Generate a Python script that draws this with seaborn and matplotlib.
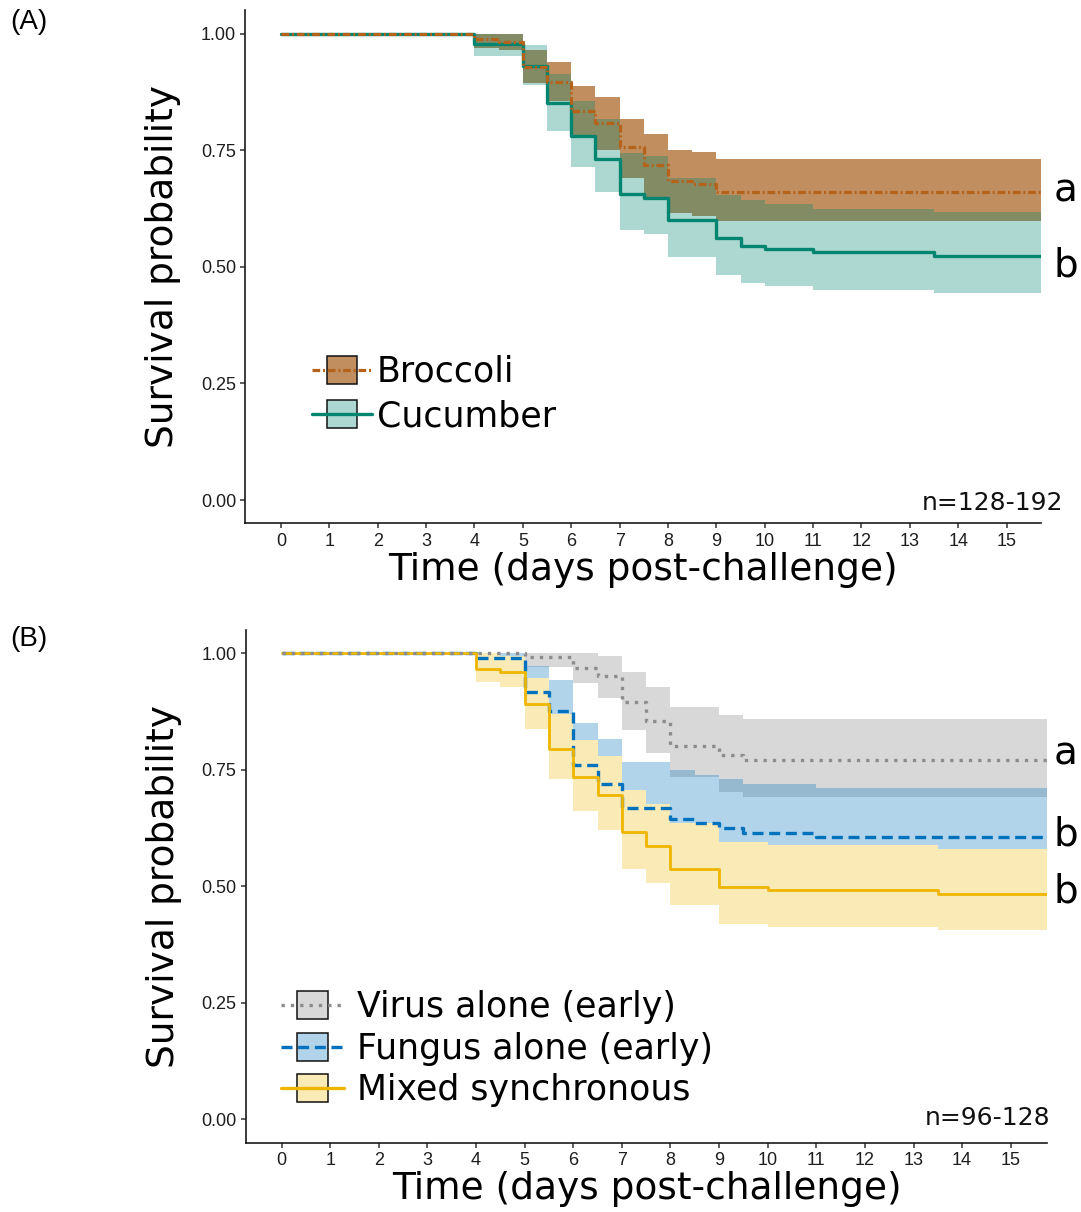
import numpy as np
import pandas as pd
import matplotlib
matplotlib.use("Agg")
import matplotlib.pyplot as plt
import seaborn as sns
from matplotlib.patches import Rectangle
from matplotlib.lines import Line2D
from matplotlib.legend_handler import HandlerBase
from matplotlib.transforms import blended_transform_factory

# ---------------- Panel A: diet ----------------
broccoli_time  = [0, 4, 4.5, 5, 5.5, 6, 6.5, 7, 7.5, 8, 8.5, 9]
broccoli_surv  = [1.000, 0.988, 0.983, 0.928, 0.896, 0.835, 0.808, 0.756, 0.718, 0.683, 0.678, 0.661]
broccoli_upper = [1.000, 1.000, 1.000, 0.964, 0.939, 0.887, 0.865, 0.818, 0.784, 0.750, 0.746, 0.732]
broccoli_lower = [1.000, 0.969, 0.965, 0.894, 0.856, 0.780, 0.750, 0.690, 0.650, 0.615, 0.610, 0.598]

cucumber_time  = [0, 4, 5, 5.5, 6, 6.5, 7, 7.5, 8, 9, 9.5, 10, 11, 13.5]
cucumber_surv  = [1.000, 0.978, 0.930, 0.851, 0.781, 0.732, 0.657, 0.648, 0.601, 0.562, 0.545, 0.539, 0.531, 0.523]
cucumber_upper = [1.000, 1.000, 0.975, 0.914, 0.856, 0.817, 0.745, 0.738, 0.691, 0.655, 0.644, 0.634, 0.624, 0.617]
cucumber_lower = [1.000, 0.951, 0.889, 0.792, 0.713, 0.661, 0.578, 0.571, 0.522, 0.483, 0.466, 0.459, 0.450, 0.443]

# ---------------- Panel B: infection treatment ----------------
virus_time  = [0, 5, 6, 6.5, 7, 7.5, 8, 9, 9.5]
virus_surv  = [1.000, 0.991, 0.969, 0.951, 0.896, 0.855, 0.801, 0.781, 0.771]
virus_upper = [1.000, 1.000, 1.000, 0.994, 0.959, 0.928, 0.885, 0.868, 0.860]
virus_lower = [1.000, 0.971, 0.936, 0.905, 0.836, 0.786, 0.735, 0.703, 0.692]

fungus_time  = [0, 4, 5, 5.5, 6, 6.5, 7, 8, 8.5, 9, 9.5, 11]
fungus_surv  = [1.000, 0.990, 0.917, 0.876, 0.760, 0.719, 0.667, 0.645, 0.636, 0.625, 0.614, 0.606]
fungus_upper = [1.000, 1.000, 0.972, 0.943, 0.850, 0.815, 0.767, 0.749, 0.738, 0.730, 0.720, 0.710]
fungus_lower = [1.000, 0.975, 0.860, 0.810, 0.680, 0.630, 0.575, 0.555, 0.545, 0.535, 0.525, 0.515]

mixed_time  = [0, 4, 4.5, 5, 5.5, 6, 6.5, 7, 7.5, 8, 9, 10, 13.5]
mixed_surv  = [1.000, 0.967, 0.960, 0.892, 0.795, 0.735, 0.695, 0.617, 0.586, 0.538, 0.499, 0.491, 0.484]
mixed_upper = [1.000, 1.000, 0.995, 0.946, 0.869, 0.813, 0.779, 0.707, 0.677, 0.636, 0.595, 0.588, 0.581]
mixed_lower = [1.000, 0.938, 0.928, 0.838, 0.731, 0.662, 0.620, 0.538, 0.508, 0.459, 0.420, 0.413, 0.406]

day_ticks = list(range(16))
surv_ticks = [0.00, 0.25, 0.50, 0.75, 1.00]
surv_tick_labels = ["0.00", "0.25", "0.50", "0.75", "1.00"]

W, H = 1081, 1212
TICK_FONT = "Liberation Sans"
TEXT_FONT = "DejaVu Sans"

sns.set_theme(style="ticks")
plt.rcParams["font.family"] = [TEXT_FONT]
plt.rcParams["text.color"] = "black"
plt.rcParams["axes.labelcolor"] = "black"


def step_frame(time, surv, upper, lower, t_end):
    """Kaplan-Meier style table, carried out to the end of follow-up."""
    df = pd.DataFrame({"time": time, "surv": surv, "upper": upper, "lower": lower})
    last = df.iloc[[-1]].copy()
    last["time"] = t_end
    return pd.concat([df, last], ignore_index=True)


def draw_band(ax, df, **kw):
    ax.fill_between(df["time"], df["lower"], df["upper"], step="post", linewidth=0, **kw)


def draw_curve(ax, df, color, lw, ls):
    sns.lineplot(data=df, x="time", y="surv", ax=ax, color=color, linewidth=lw,
                 linestyle=ls, drawstyle="steps-post", estimator=None, sort=False,
                 legend=False)


class BandLineHandler(HandlerBase):
    """Legend key: a framed fill swatch with the curve's line drawn through it."""
    def create_artists(self, legend, orig_handle, xdescent, ydescent, width, height,
                       fontsize, trans):
        patch, line = orig_handle
        bw, bh = width * 0.5, height * 1.15
        x0 = -xdescent + (width - bw) / 2
        y0 = -ydescent + (height - bh) / 2
        rect = Rectangle((x0, y0), bw, bh, facecolor=patch.get_facecolor(),
                         edgecolor="#111111", linewidth=1.1, transform=trans)
        ln = Line2D([-xdescent, -xdescent + width], [-ydescent + height / 2] * 2)
        ln.update_from(line)
        ln.set_transform(trans)
        return [rect, ln]


def style_axes(ax, xlim):
    ax.set_xlim(*xlim)
    ax.set_ylim(-0.05, 1.05)
    ax.set_xticks(day_ticks)
    ax.set_xticklabels([str(d) for d in day_ticks], family=TICK_FONT)
    ax.set_yticks(surv_ticks)
    ax.set_yticklabels(surv_tick_labels, family=TICK_FONT)
    ax.tick_params(axis="both", labelsize=13, length=3.6, width=1.1, color="#333333",
                   labelcolor="#1e1e1e", pad=3)
    for side in ("top", "right"):
        ax.spines[side].set_visible(False)
    for side in ("left", "bottom"):
        ax.spines[side].set_linewidth(1.2)
        ax.spines[side].set_color("#1a1a1a")
    ax.set_xlabel("Time (days post-challenge)", fontsize=27, family=TEXT_FONT,
                  labelpad=2, color="black")
    ax.set_ylabel("Survival probability", fontsize=27, family=TEXT_FONT,
                  labelpad=14, color="black")
    ax.grid(False)
    ax.set_facecolor("white")


fig = plt.figure(figsize=(W / 100, H / 100), dpi=100)
fig.patch.set_facecolor("white")

# ---------------- Panel A ----------------
XLIM_A = (-0.74, 15.72)
axA = fig.add_axes([0.2268, 0.5682, 0.7366, 0.4233])

broc = step_frame(broccoli_time, broccoli_surv, broccoli_upper, broccoli_lower, XLIM_A[1])
cucu = step_frame(cucumber_time, cucumber_surv, cucumber_upper, cucumber_lower, XLIM_A[1])

BROC_LINE, BROC_FILL = "#B5621A", "#C08E5F"
CUCU_LINE = "#008571"
dashdot = (0, (2.4, 0.9, 0.6, 0.9))

draw_band(axA, broc, color=BROC_FILL)
draw_band(axA, cucu, color=CUCU_LINE, alpha=0.32)
draw_curve(axA, cucu, CUCU_LINE, 2.4, "-")
draw_curve(axA, broc, BROC_LINE, 2.3, dashdot)
style_axes(axA, XLIM_A)

handles_A = [
    (Rectangle((0, 0), 1, 1, facecolor=BROC_FILL),
     Line2D([], [], color=BROC_LINE, lw=2.3, linestyle=dashdot)),
    (Rectangle((0, 0), 1, 1, facecolor=matplotlib.colors.to_rgba(CUCU_LINE, 0.32)),
     Line2D([], [], color=CUCU_LINE, lw=2.4, linestyle="-")),
]
axA.legend(handles_A, ["Broccoli", "Cucumber"], handler_map={tuple: BandLineHandler()},
           loc="center left", bbox_to_anchor=(0.0835, 0.252), frameon=False,
           prop={"family": TEXT_FONT, "size": 25}, handlelength=1.73, handleheight=0.7,
           handletextpad=0.15, labelspacing=0.3, borderpad=0, borderaxespad=0)

# ---------------- Panel B ----------------
XLIM_B = (-0.74, 15.75)
axB = fig.add_axes([0.2273, 0.0573, 0.7414, 0.4229])

vir = step_frame(virus_time, virus_surv, virus_upper, virus_lower, XLIM_B[1])
fun = step_frame(fungus_time, fungus_surv, fungus_upper, fungus_lower, XLIM_B[1])
mix = step_frame(mixed_time, mixed_surv, mixed_upper, mixed_lower, XLIM_B[1])

VIR_LINE, VIR_FILL = "#8C8C8C", "#808080"
FUN_LINE = "#0072BD"
MIX_LINE, MIX_FILL = "#EEB600", "#FAEAB5"
dotted = (0, (1.0, 1.8))
dashed = (0, (3.3, 1.7))

draw_band(axB, vir, color=VIR_FILL, alpha=0.3)
draw_band(axB, fun, color=FUN_LINE, alpha=0.3)
draw_band(axB, mix, color=MIX_FILL)
draw_curve(axB, fun, FUN_LINE, 2.4, dashed)
draw_curve(axB, mix, MIX_LINE, 2.0, "-")
draw_curve(axB, vir, VIR_LINE, 2.4, dotted)
style_axes(axB, XLIM_B)

handles_B = [
    (Rectangle((0, 0), 1, 1, facecolor=matplotlib.colors.to_rgba(VIR_FILL, 0.3)),
     Line2D([], [], color=VIR_LINE, lw=2.4, linestyle=dotted)),
    (Rectangle((0, 0), 1, 1, facecolor=matplotlib.colors.to_rgba(FUN_LINE, 0.3)),
     Line2D([], [], color=FUN_LINE, lw=2.4, linestyle=dashed)),
    (Rectangle((0, 0), 1, 1, facecolor=MIX_FILL),
     Line2D([], [], color=MIX_LINE, lw=2.4, linestyle="-")),
]
axB.legend(handles_B, ["Virus alone (early)", "Fungus alone (early)", "Mixed synchronous"],
           handler_map={tuple: BandLineHandler()},
           loc="center left", bbox_to_anchor=(0.0441, 0.183), frameon=False,
           prop={"family": TEXT_FONT, "size": 25}, handlelength=1.8, handleheight=0.7,
           handletextpad=0.4, labelspacing=0.21, borderpad=0, borderaxespad=0)

# ---------------- annotations ----------------
def fig_xy(px, py):
    return px / W, 1 - py / H

for ax, letters in ((axA, [("a", 0.664), ("b", 0.502)]),
                    (axB, [("a", 0.786), ("b", 0.612), ("b", 0.488)])):
    tr = blended_transform_factory(fig.transFigure, ax.transData)
    for letter, yv in letters:
        ax.text(1066 / W, yv, letter, transform=tr, ha="center", va="center",
                fontsize=28, family=TEXT_FONT, color="black", clip_on=False)

fig.text(*fig_xy(1063, 503), "n=128-192", ha="right", va="center", fontsize=18,
         family=TEXT_FONT, color="#111111")
fig.text(*fig_xy(1050, 1118), "n=96-128", ha="right", va="center", fontsize=18,
         family=TEXT_FONT, color="#111111")
fig.text(*fig_xy(10, 22), "(A)", ha="left", va="center", fontsize=20, family=TICK_FONT)
fig.text(*fig_xy(10, 639), "(B)", ha="left", va="center", fontsize=20, family=TICK_FONT)

fig.savefig("out.png", dpi=100, facecolor="white")
